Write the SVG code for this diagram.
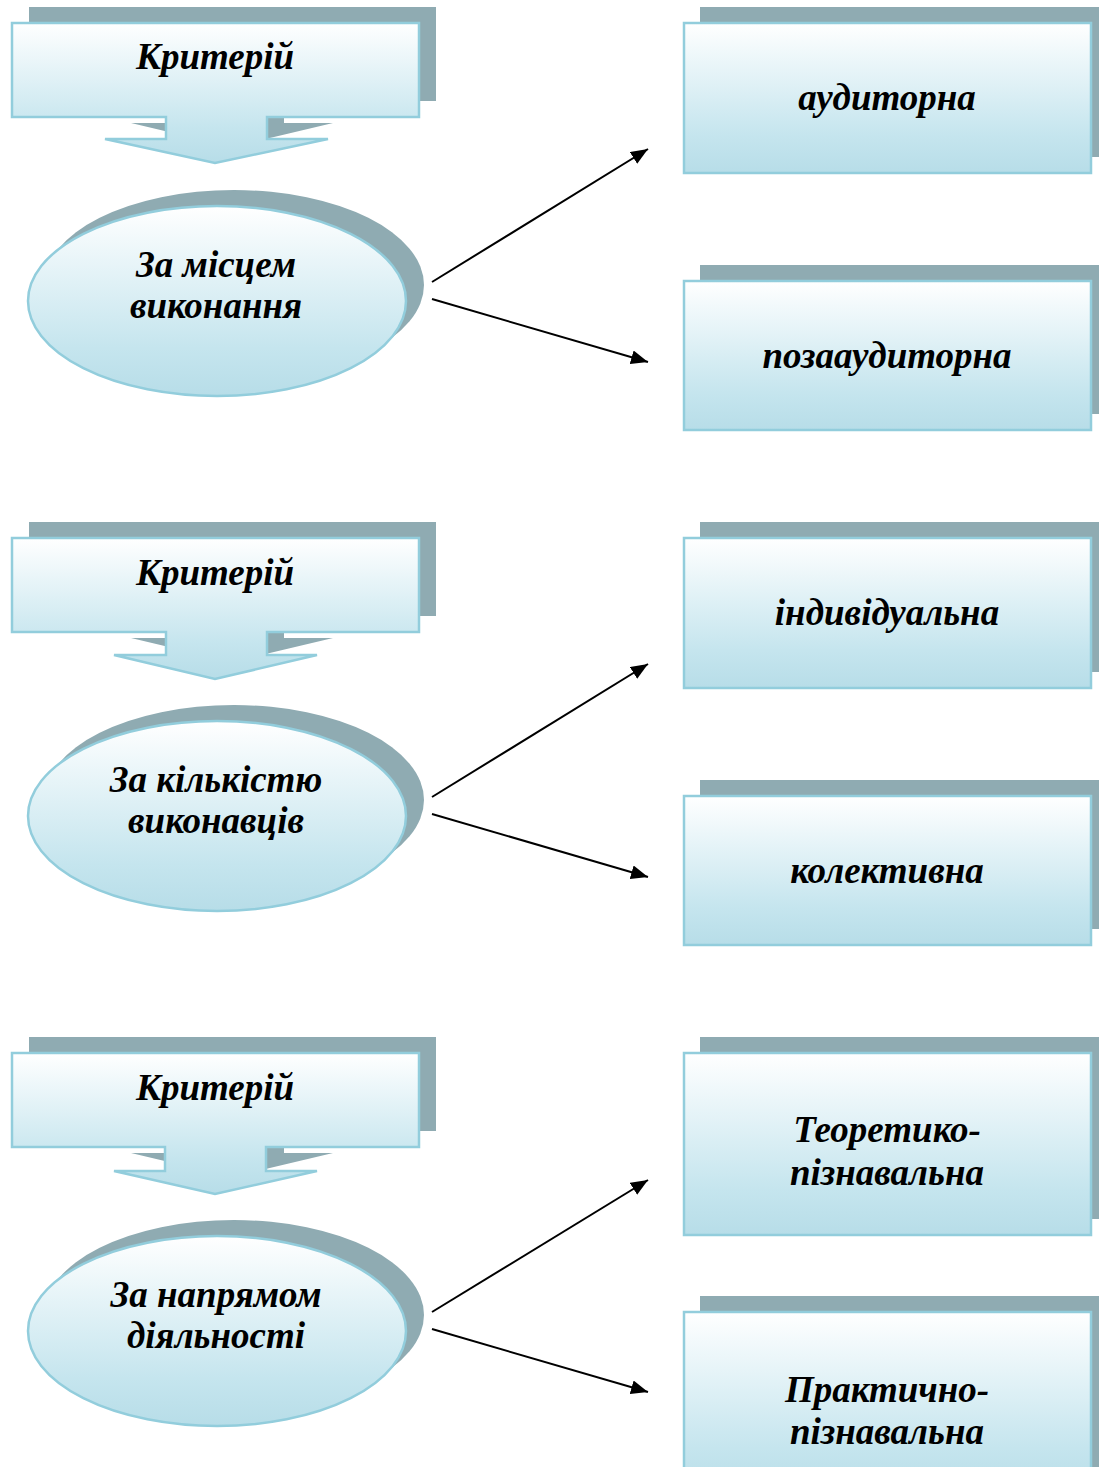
<svg xmlns="http://www.w3.org/2000/svg" width="1099" height="1467" viewBox="0 0 1099 1467">
<style>
.sh{fill:#8FABB2;}
.fr{fill:url(#grad);stroke:#92CDDC;stroke-width:2.5;}
.t{font-family:"Liberation Serif","Times New Roman",serif;font-weight:bold;font-style:italic;font-size:37px;fill:#000;text-anchor:middle;}
.c{stroke:#000;stroke-width:2;fill:none;marker-end:url(#ah);}
</style>
<defs>
<linearGradient id="grad" x1="0" y1="0" x2="0" y2="1">
<stop offset="0" stop-color="#FFFFFF"/>
<stop offset="0.75" stop-color="#C5E5EE"/>
<stop offset="1" stop-color="#B7DDE8"/>
</linearGradient>
<marker id="ah" markerUnits="userSpaceOnUse" markerWidth="18" markerHeight="14" refX="17" refY="7" orient="auto">
<path d="M0,0 L17,7 L0,14 Z" fill="#000"/>
</marker>
</defs>

<!-- Block 1 -->
<g id="crit1">
<path class="sh" d="M29,7 H436 V101 H284 V123 H333 L232,147 L131,123 H183 V101 H29 Z"/>
<path class="fr" d="M12,23 H419 V117 H267 V139 H328 L215,163 L105,139 H166 V117 H12 Z"/>
<text class="t" x="215" y="69">Критерій</text>
</g>
<g id="ell1">
<ellipse class="sh" cx="234" cy="285" rx="190" ry="95"/>
<ellipse class="fr" cx="217" cy="301" rx="189" ry="95"/>
<text class="t" x="216" y="277">За місцем</text>
<text class="t" x="216" y="318">виконання</text>
</g>
<g id="box1a">
<rect class="sh" x="700" y="7" width="408" height="150"/>
<rect class="fr" x="684" y="23" width="407" height="150"/>
<text class="t" x="887" y="110">аудиторна</text>
</g>
<g id="box1b">
<rect class="sh" x="700" y="265" width="408" height="149"/>
<rect class="fr" x="684" y="281" width="407" height="149"/>
<text class="t" x="887" y="368">позааудиторна</text>
</g>

<!-- Block 2 -->
<g id="crit2">
<path class="sh" d="M29,522 H436 V616 H284 V638 H333 L232,662 L131,638 H183 V616 H29 Z"/>
<path class="fr" d="M12,538 H419 V632 H267 V655 H317 L215,679 L114,655 H166 V632 H12 Z"/>
<text class="t" x="215" y="585">Критерій</text>
</g>
<g id="ell2">
<ellipse class="sh" cx="234" cy="800" rx="190" ry="95"/>
<ellipse class="fr" cx="217" cy="816" rx="189" ry="95"/>
<text class="t" x="216" y="792">За кількістю</text>
<text class="t" x="216" y="833">виконавців</text>
</g>
<g id="box2a">
<rect class="sh" x="700" y="522" width="408" height="150"/>
<rect class="fr" x="684" y="538" width="407" height="150"/>
<text class="t" x="887" y="625">індивідуальна</text>
</g>
<g id="box2b">
<rect class="sh" x="700" y="780" width="408" height="149"/>
<rect class="fr" x="684" y="796" width="407" height="149"/>
<text class="t" x="887" y="883">колективна</text>
</g>

<!-- Block 3 -->
<g id="crit3">
<path class="sh" d="M29,1037 H436 V1131 H284 V1153 H333 L232,1177 L131,1153 H183 V1131 H29 Z"/>
<path class="fr" d="M12,1053 H419 V1147 H266 V1171 H317 L215,1194 L114,1171 H165 V1147 H12 Z"/>
<text class="t" x="215" y="1100">Критерій</text>
</g>
<g id="ell3">
<ellipse class="sh" cx="234" cy="1315" rx="190" ry="95"/>
<ellipse class="fr" cx="217" cy="1331" rx="189" ry="95"/>
<text class="t" x="216" y="1307">За напрямом</text>
<text class="t" x="216" y="1348">діяльності</text>
</g>
<g id="box3a">
<rect class="sh" x="700" y="1037" width="408" height="182"/>
<rect class="fr" x="684" y="1053" width="407" height="182"/>
<text class="t" x="887" y="1142">Теоретико-</text>
<text class="t" x="887" y="1185">пізнавальна</text>
</g>
<g id="box3b">
<rect class="sh" x="700" y="1296" width="408" height="182"/>
<rect class="fr" x="684" y="1312" width="407" height="182"/>
<text class="t" x="887" y="1402">Практично-</text>
<text class="t" x="887" y="1444">пізнавальна</text>
</g>

<g id="connectors">
<line class="c" x1="432" y1="282" x2="648" y2="149"/>
<line class="c" x1="432" y1="299" x2="648" y2="362"/>
<line class="c" x1="432" y1="797" x2="648" y2="664"/>
<line class="c" x1="432" y1="814" x2="648" y2="877"/>
<line class="c" x1="432" y1="1312" x2="648" y2="1180"/>
<line class="c" x1="432" y1="1329" x2="648" y2="1392"/>
</g>
</svg>
